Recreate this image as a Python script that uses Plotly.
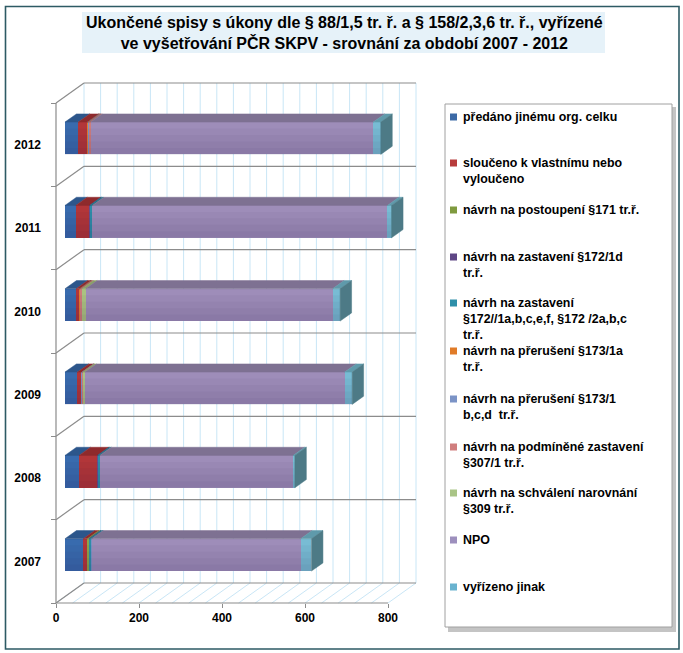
import plotly.graph_objects as go

# ---------------- data ----------------
years = ["2007", "2008", "2009", "2010", "2011", "2012"]

series_names = [
    "předáno jinému org. celku",
    "sloučeno k vlastnímu nebo vyloučeno",
    "návrh na postoupení §171 tr.ř.",
    "návrh na zastavení §172/1d tr.ř.",
    "návrh na zastavení §172//1a,b,c,e,f, §172 /2a,b,c tr.ř.",
    "návrh na přerušení §173/1a tr.ř.",
    "návrh na přerušení §173/1 b,c,d  tr.ř.",
    "návrh na podmíněné zastavení §307/1 tr.ř.",
    "návrh na schválení narovnání §309 tr.ř.",
    "NPO",
    "vyřízeno jinak",
]
legend_labels = [
    "předáno jinému org. celku",
    "sloučeno k vlastnímu nebo<br>vyloučeno",
    "návrh na postoupení §171 tr.ř.",
    "návrh na zastavení §172/1d<br>tr.ř.",
    "návrh na zastavení<br>§172//1a,b,c,e,f, §172 /2a,b,c<br>tr.ř.",
    "návrh na přerušení §173/1a<br>tr.ř.",
    "návrh na přerušení §173/1<br>b,c,d  tr.ř.",
    "návrh na podmíněné zastavení<br>§307/1 tr.ř.",
    "návrh na schválení narovnání<br>§309 tr.ř.",
    "NPO",
    "vyřízeno jinak",
]

predano        = [44, 34, 30, 27, 26, 32]
slouceno       = [10, 44, 11, 8, 33, 22]
postoupeni     = [4, 0, 0, 0, 0, 0]
zastaveni_1d   = [1, 1, 0, 1, 1, 1]
zastaveni_1a   = [5, 5, 0, 0, 6, 0]
preruseni_1a   = [0, 0, 0, 1, 0, 2]
preruseni_1bcd = [1, 0, 1, 0, 0, 1]
podminene      = [0, 0, 1, 4, 0, 4]
narovnani      = [0, 0, 5, 9, 0, 0]
npo            = [503, 466, 626, 595, 711, 681]
vyrizeno       = [26, 4, 18, 18, 10, 18]

series_values = [predano, slouceno, postoupeni, zastaveni_1d, zastaveni_1a,
                 preruseni_1a, preruseni_1bcd, podminene, narovnani, npo, vyrizeno]

x_ticks = [0, 200, 400, 600, 800]

front_colors = ["#3a6fb3", "#b8383a", "#8fae4c", "#6a4f92", "#2f93ad", "#e9822e",
                "#7f98cb", "#d48280", "#b0cb84", "#a393be", "#7cc3da"]
top_colors   = ["#2c568b", "#8e2a2c", "#6f883a", "#523c72", "#237287", "#b86524",
                "#63779f", "#a66563", "#8aa067", "#7e7192", "#5f9aab"]
legend_colors = ["#3c6aa6", "#b73c3c", "#7f9a3f", "#5e4685", "#2e8fa9", "#e07b28",
                 "#7b93c6", "#d07e7e", "#a9c486", "#9d8fbd", "#6ab3cf"]
side_color = "#4d7a86"

# ---------------- geometry (screen pixels) ----------------
W, H = 683, 653
X0 = 56.0               # px of value 0 on the front plane
PPU = 332.0 / 800.0     # px per unit
YB = 603.0              # px of floor front edge
CAT = 500.0 / 6.0       # px per category
DXP, DYP = 28.0, 20.0   # full depth offset (px)
DOM_L, DOM_R, DOM_T, DOM_B = 50.0, 424.0, 76.0, 607.0
FRONT = 0.32            # bar front-face depth fraction
BDEPTH = 0.41           # bar depth fraction
BAR_H = 32.3            # bar height px


def pxx(x):
    return x / W


def pxy(y):
    return 1 - y / H


xr = [(DOM_L - X0) / PPU, (DOM_R - X0) / PPU]
yr = [(YB - DOM_B) / CAT - 0.5, (YB - DOM_T) / CAT - 0.5]
bx0 = X0 + FRONT * DXP
by0 = YB - FRONT * DYP
x2r = [(DOM_L - bx0) / PPU, (DOM_R - bx0) / PPU]
y2r = [(by0 - DOM_B) / CAT - 0.5, (by0 - DOM_T) / CAT - 0.5]

DXU = DXP / PPU
DYU = DYP / CAT
bdx = BDEPTH * DXP / PPU
bdy = BDEPTH * DYP / CAT
bw = BAR_H / CAT

fig = go.Figure()

grid_c = "#c9e6f6"
wall_c = "#8c8c8c"

# back wall vertical gridlines & floor gridlines
gx, gy, fx, fy = [], [], [], []
for k in range(0, 21):
    v = 40 * k
    gx += [v + DXU, v + DXU, None]
    gy += [-0.5 + DYU, 5.5 + DYU, None]
    fx += [v, v + DXU, None]
    fy += [-0.5, -0.5 + DYU, None]
fig.add_trace(go.Scatter(x=gx, y=gy, mode="lines", line=dict(color=grid_c, width=1),
                         hoverinfo="skip", showlegend=False))
fig.add_trace(go.Scatter(x=fx, y=fy, mode="lines", line=dict(color=grid_c, width=1),
                         hoverinfo="skip", showlegend=False))

# back wall category boundaries and left wall diagonals
hx, hy = [], []
for i in range(7):
    b = -0.5 + i
    hx += [DXU, 800 + DXU, None, 0, DXU, None]
    hy += [b + DYU, b + DYU, None, b, b + DYU, None]
fig.add_trace(go.Scatter(x=hx, y=hy, mode="lines", line=dict(color=wall_c, width=1.2),
                         hoverinfo="skip", showlegend=False))
# left axis line and floor front edge
fig.add_trace(go.Scatter(x=[0, 0, 800], y=[5.5, -0.5, -0.5], mode="lines",
                         line=dict(color=wall_c, width=1.2), hoverinfo="skip", showlegend=False))

# ---------------- bars (front faces) ----------------
yidx = list(range(len(years)))
for name, vals, col in zip(series_names, series_values, front_colors):
    fig.add_trace(go.Bar(x=vals, y=yidx, orientation="h", name=name, width=bw,
                         marker=dict(color=col, line=dict(width=0)),
                         xaxis="x2", yaxis="y2", showlegend=False,
                         hovertemplate="%{x}<extra>" + name + "</extra>"))

# shading overlay for front faces (vertical gradient imitation)
totals = [sum(s[j] for s in series_values) for j in range(len(years))]
for f in [1.0, 0.8, 0.6, 0.4, 0.2]:
    sx, sy = [], []
    for j, t in enumerate(totals):
        yb_ = j - bw / 2
        yt_ = yb_ + bw * f
        sx += [0, t, t, 0, 0, None]
        sy += [yb_, yb_, yt_, yt_, yb_, None]
    fig.add_trace(go.Scatter(x=sx, y=sy, mode="lines", fill="toself",
                             fillcolor="rgba(30,10,50,0.035)", line=dict(width=0),
                             xaxis="x2", yaxis="y2", hoverinfo="skip", showlegend=False))

# top faces
cum = [0.0] * len(years)
for vals, tc in zip(series_values, top_colors):
    tx, ty = [], []
    for j, v in enumerate(vals):
        if v > 0:
            a, b = cum[j], cum[j] + v
            yt_ = j + bw / 2
            tx += [a, b, b + bdx, a + bdx, a, None]
            ty += [yt_, yt_, yt_ + bdy, yt_ + bdy, yt_, None]
        cum[j] += v
    if tx:
        fig.add_trace(go.Scatter(x=tx, y=ty, mode="lines", fill="toself", fillcolor=tc,
                                 line=dict(width=0.5, color=tc), xaxis="x2", yaxis="y2",
                                 hoverinfo="skip", showlegend=False))

# right side faces
rx, ry = [], []
for j, t in enumerate(totals):
    yb_, yt_ = j - bw / 2, j + bw / 2
    rx += [t, t, t + bdx, t + bdx, t, None]
    ry += [yb_, yt_, yt_ + bdy, yb_ + bdy, yb_, None]
fig.add_trace(go.Scatter(x=rx, y=ry, mode="lines", fill="toself", fillcolor=side_color,
                         line=dict(width=0.5, color=side_color), xaxis="x2", yaxis="y2",
                         hoverinfo="skip", showlegend=False))

# ---------------- layout ----------------
tick_font = dict(family="Liberation Sans, Arial, sans-serif", size=12, color="black", weight=700)

fig.update_layout(
    width=W, height=H,
    margin=dict(l=0, r=0, t=0, b=0),
    paper_bgcolor="white", plot_bgcolor="rgba(0,0,0,0)",
    barmode="stack", bargap=0,
    showlegend=False,
    xaxis=dict(domain=[pxx(DOM_L), pxx(DOM_R)], range=xr, showgrid=False, zeroline=False,
               tickmode="array", tickvals=x_ticks, ticktext=[str(t) for t in x_ticks],
               ticks="outside", ticklen=4, tickcolor=wall_c, tickfont=tick_font,
               anchor="free", position=pxy(YB), showline=False, fixedrange=True),
    yaxis=dict(domain=[pxy(DOM_B), pxy(DOM_T)], range=yr, showgrid=False, zeroline=False,
               tickmode="array", tickvals=yidx, ticktext=years, ticks="", tickfont=tick_font,
               ticklabelstandoff=15,
               minor=dict(tickmode="array", tickvals=[-0.5 + i for i in range(7)],
                          ticks="outside", ticklen=5, tickcolor=wall_c, showgrid=False),
               anchor="free", position=pxx(X0), showline=False, fixedrange=True),
    xaxis2=dict(overlaying="x", range=x2r, visible=False, fixedrange=True),
    yaxis2=dict(overlaying="y", range=y2r, visible=False, fixedrange=True),
)

shapes = []
# outer border
shapes.append(dict(type="rect", xref="paper", yref="paper", x0=pxx(5.5), x1=pxx(679),
                   y0=pxy(649), y1=pxy(6.5), line=dict(color="#2d5a64", width=1.6), layer="below"))
# title background
shapes.append(dict(type="rect", xref="paper", yref="paper", x0=pxx(82), x1=pxx(605),
                   y0=pxy(53), y1=pxy(12), line=dict(width=0), fillcolor="#e6f2f9", layer="below"))
# legend shadow + box
shapes.append(dict(type="rect", xref="paper", yref="paper", x0=pxx(448), x1=pxx(676),
                   y0=pxy(632), y1=pxy(107), line=dict(width=0), fillcolor="#c4c4c4", layer="above"))
shapes.append(dict(type="rect", xref="paper", yref="paper", x0=pxx(445), x1=pxx(672),
                   y0=pxy(627), y1=pxy(104), line=dict(color="#a0a0a0", width=1),
                   fillcolor="white", layer="above"))

annotations = [dict(
    text="Ukončené spisy s úkony dle § 88/1,5 tr. ř. a § 158/2,3,6 tr. ř., vyřízené<br>"
         "ve vyšetřování PČR SKPV - srovnání za období 2007 - 2012",
    xref="paper", yref="paper", x=pxx(344), y=pxy(33), xanchor="center", yanchor="middle",
    showarrow=False, align="center",
    font=dict(family="Liberation Sans Narrow, Arial Narrow, Liberation Sans, sans-serif",
              size=16, color="black", weight=700))]

legend_y = [117, 163, 210, 257, 303, 351, 399, 447, 493, 540, 587]
leg_font = dict(family="Liberation Sans, Arial, sans-serif", size=12.4, color="black", weight=700)
for lab, col, ly in zip(legend_labels, legend_colors, legend_y):
    shapes.append(dict(type="rect", xref="paper", yref="paper", x0=pxx(450), x1=pxx(457),
                       y0=pxy(ly + 3.5), y1=pxy(ly - 3.5), line=dict(width=0),
                       fillcolor=col, layer="above"))
    annotations.append(dict(text=lab, xref="paper", yref="paper", x=pxx(462), y=pxy(ly - 8),
                            xanchor="left", yanchor="top", align="left", showarrow=False,
                            borderpad=0, font=leg_font))

fig.update_layout(shapes=shapes, annotations=annotations)

fig.write_html("out.html", config={"displayModeBar": False},
               post_script="document.body.style.margin='0';")
